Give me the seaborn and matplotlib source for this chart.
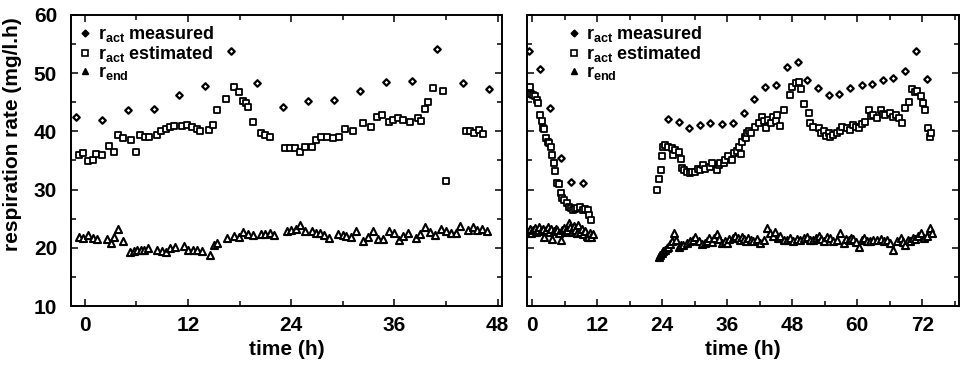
import matplotlib
matplotlib.use("Agg")
import matplotlib.pyplot as plt
import seaborn as sns
import pandas as pd
from matplotlib.ticker import MultipleLocator
from matplotlib.lines import Line2D

# ---------------- data ----------------
# left panel
left_meas_t = [-1, 2, 5, 8, 11, 14, 17, 20, 23, 26, 29, 32, 35, 38, 41, 44, 47]
left_meas_v = [42.4, 42.0, 43.7, 43.9, 46.3, 47.8, 53.9, 48.4, 44.2, 45.3, 45.4,
               47.0, 48.5, 48.7, 54.1, 48.4, 47.3]

left_est_t = [-0.7, -0.2, 0.4, 0.9, 1.3, 2.0, 2.8, 3.4, 3.9, 4.5, 5.4, 6.0, 6.4, 7.0,
              7.5, 8.4, 8.9, 9.5, 9.9, 10.4, 11.3, 11.9, 12.5, 13.0, 13.4, 14.4, 14.9,
              15.4, 16.4, 17.4, 17.9, 18.4, 18.7, 19.0, 19.5, 20.5, 21.0, 21.5, 23.3,
              23.9, 24.4, 25.0, 25.6, 26.4, 26.9, 27.5, 28.1, 28.8, 29.5, 30.2, 31.2,
              32.4, 33.3, 34.0, 34.5, 35.4, 35.8, 36.4, 37.0, 37.8, 38.7, 39.1, 39.5,
              39.9, 40.5, 41.6, 42.0, 44.3, 44.8, 45.3, 45.8, 46.3]
left_est_v = [35.9, 36.3, 34.9, 35.1, 36.1, 35.9, 37.5, 36.5, 39.4, 38.8, 38.5, 36.5,
              39.4, 39.1, 39.0, 39.4, 40.0, 40.4, 40.7, 40.9, 40.9, 41.1, 40.7, 40.4,
              40.1, 40.2, 41.1, 43.7, 45.6, 47.6, 46.8, 45.2, 44.8, 44.2, 41.7, 39.8,
              39.4, 39.1, 37.1, 37.1, 37.2, 36.5, 37.4, 37.4, 38.5, 39.1, 39.0, 38.9,
              39.0, 40.4, 40.1, 41.4, 40.7, 42.5, 42.9, 41.6, 42.0, 42.3, 42.0, 41.7,
              42.3, 41.8, 43.8, 45.1, 47.4, 47.0, 31.4, 40.1, 40.0, 39.8, 40.2, 39.6]

left_end_t = [-0.7, -0.2, 0.4, 0.9, 1.4, 2.6, 3.0, 3.4, 3.9, 4.4, 5.3, 5.7, 6.1, 6.5,
              6.9, 7.4, 8.4, 9.0, 9.5, 9.9, 10.5, 11.5, 12.0, 12.6, 13.1, 13.6, 14.5,
              15.0, 15.4, 16.5, 17.3, 17.9, 18.4, 19.0, 19.5, 20.5, 21.0, 21.5, 22.0,
              23.5, 24.0, 24.5, 25.0, 25.6, 26.4, 26.9, 27.4, 27.8, 28.4, 29.4, 30.0,
              30.4, 31.0, 31.5, 32.4, 32.9, 33.5, 34.1, 34.7, 35.4, 35.9, 36.5, 37.0,
              37.6, 38.5, 39.0, 39.5, 40.1, 40.7, 41.4, 42.0, 42.6, 43.2, 43.6, 44.5,
              45.1, 45.6, 46.2, 46.8]
left_end_v = [21.8, 21.6, 22.2, 21.6, 21.5, 21.5, 20.9, 21.9, 23.2, 21.2, 19.2, 19.5,
              19.6, 19.6, 19.6, 20.0, 19.6, 19.5, 19.3, 19.9, 20.1, 20.3, 19.7, 19.7,
              19.6, 19.5, 18.8, 20.5, 20.8, 21.7, 22.0, 21.9, 22.8, 22.4, 22.2, 22.4,
              22.4, 22.6, 22.2, 22.9, 23.1, 23.3, 24.0, 22.9, 22.9, 22.6, 22.5, 22.2,
              21.7, 22.4, 22.2, 22.0, 21.8, 22.9, 21.2, 21.8, 22.9, 21.5, 21.5, 22.9,
              22.5, 21.3, 22.0, 22.5, 21.7, 22.3, 23.5, 22.8, 22.2, 23.2, 22.9, 22.5,
              22.6, 23.7, 23.1, 23.6, 23.0, 23.3, 22.9]

# right panel
right_meas_t = [-0.7, 1.4, 3.3, 5.3, 7.2, 9.3, 25.0, 27.0, 29.0, 30.9, 32.8, 35.0,
                37.0, 39.0, 41.0, 43.0, 45.0, 47.0, 49.1, 50.7, 52.7, 54.7, 56.7,
                58.7, 60.8, 62.8, 64.8, 66.7, 68.9, 70.9, 72.9]
right_meas_v = [53.9, 50.7, 44.0, 35.5, 31.3, 31.2, 42.1, 41.7, 40.6, 41.1, 41.5,
                41.3, 41.4, 43.2, 45.5, 47.6, 47.9, 51.0, 52.0, 48.8, 47.5, 46.3,
                46.4, 47.4, 47.9, 48.1, 48.8, 49.2, 50.4, 53.8, 49.0]

right_est_t = [-0.4, -0.3, 0.1, 0.5, 0.8, 1.1, 1.4, 1.7, 2.0, 2.2, 2.5, 2.8, 3.0,
               3.4, 3.6, 3.9, 4.2, 4.6, 4.9, 5.2, 5.4, 5.9, 6.4, 6.8, 7.2, 7.5, 7.9,
               8.3, 8.8, 9.4, 9.8, 10.2, 10.5, 10.9,
               23.0, 23.3, 23.8, 24.0, 24.2, 24.5, 25.1, 25.8, 26.0, 26.4, 27.0, 27.4,
               27.6, 28.0, 28.5, 29.1, 29.5, 30.0, 30.5, 31.0, 31.6, 31.9, 32.8, 33.2,
               34.1, 34.4, 34.6, 35.3, 35.6, 36.2, 36.8, 37.2, 37.8, 38.1, 38.5, 38.7,
               39.3, 39.5, 39.7, 40.0, 40.4, 41.1, 41.8, 42.4, 42.8, 43.2, 43.6, 44.0,
               44.5, 45.0, 45.2, 45.8, 46.4, 47.5, 47.9, 48.6, 49.2, 49.6, 50.1, 51.0,
               51.3, 51.9, 52.9, 53.3, 53.8, 54.2, 54.7, 55.0, 55.6, 56.3, 56.8, 57.2,
               58.1, 58.7, 59.3, 59.8, 60.3, 60.8, 61.5, 62.1, 62.6, 63.0, 63.7, 64.3,
               64.8, 65.2, 66.1, 66.6, 67.1, 67.8, 68.3, 68.9, 69.5, 70.1, 70.6, 71.1,
               71.7, 72.2, 72.6, 73.0, 73.4, 73.6]
right_est_v = [47.6, 46.5, 46.3, 46.0, 45.4, 44.8, 42.8, 41.8, 40.5, 40.4, 38.8, 38.2,
               38.0, 37.4, 35.9, 34.6, 33.2, 31.2, 31.0, 29.5, 28.5, 28.2, 27.7, 27.0,
               26.8, 26.5, 26.6, 26.8, 27.0, 26.5, 26.7, 26.5, 25.6, 24.8,
               30.0, 31.8, 33.4, 35.7, 37.4, 37.7, 37.4, 37.1, 36.0, 36.8, 36.5, 35.2,
               33.7, 33.3, 33.1, 32.8, 33.0, 33.1, 33.5, 33.4, 34.2, 33.5, 33.8, 34.6,
               33.4, 34.3, 34.5, 34.5, 35.1, 35.7, 35.0, 36.3, 36.6, 37.4, 36.2, 38.2,
               39.1, 38.8, 39.8, 40.1, 39.7, 40.8, 41.4, 42.5, 41.8, 40.5, 42.0, 41.5,
               42.5, 41.8, 42.8, 40.9, 43.7, 46.3, 47.7, 48.3, 48.5, 47.2, 44.7, 43.2,
               41.5, 40.8, 40.5, 39.8, 40.0, 39.2, 39.7, 39.0, 39.4, 39.7, 40.0, 40.8,
               40.5, 40.2, 41.1, 40.8, 40.5, 41.2, 41.7, 43.7, 42.6, 42.8, 42.3, 43.7,
               43.0, 42.8, 43.1, 42.5, 42.8, 42.3, 41.4, 44.0, 45.1, 47.2, 46.8, 47.0,
               46.0, 44.8, 43.7, 40.5, 39.0, 39.7]

right_end_t = [-0.8, -0.5, -0.2, 0.1, 0.4, 0.7, 1.0, 1.3, 1.6, 1.9, 2.2, 2.5, 2.8,
               3.1, 3.4, 3.7, 4.0, 4.3, 4.6, 4.9, 5.2, 5.5, 5.8, 6.1, 6.4, 6.7, 7.0,
               7.3, 7.6, 7.9, 8.2, 8.5, 8.8, 9.1, 9.4, 9.7, 10.0, 10.3, 10.6, 10.9, 11.2,
               23.3, 23.6, 23.9, 24.2, 24.5, 24.8, 25.1, 25.5, 25.8, 26.2, 26.6, 27.0,
               27.5, 27.9, 28.5, 29.1, 29.6, 30.1, 30.7, 31.3, 31.8, 32.2, 32.7, 33.2,
               33.6, 34.1, 34.5, 35.0, 35.5, 35.9, 36.4, 37.0, 37.5, 37.9, 38.3, 38.7,
               39.0, 39.5, 39.9, 40.4, 40.8, 41.5, 42.1, 42.7, 43.3, 43.9, 44.4, 44.9,
               45.3, 45.8, 46.4, 47.0, 47.6, 48.2, 48.8, 49.5, 50.1, 50.7, 51.3, 51.9,
               52.4, 52.9, 53.4, 53.8, 54.4, 55.0, 55.6, 56.3, 56.9, 57.5, 58.0, 58.4,
               58.9, 59.3, 59.8, 60.3, 60.8, 61.2, 61.8, 62.4, 63.0, 63.7, 64.3, 64.9,
               65.5, 66.1, 66.7, 67.3, 68.0, 68.5, 68.9, 69.4, 69.8, 70.3, 70.7, 71.2,
               71.7, 72.3, 72.9, 73.5, 73.8]
right_end_v = [22.8, 23.2, 22.6, 23.1, 23.4, 22.7, 23.0, 23.5, 22.9, 23.3, 21.9, 23.0,
               23.6, 22.8, 23.2, 21.5, 22.9, 23.3, 23.0, 22.6, 21.4, 23.1, 23.4, 22.8,
               23.0, 24.2, 23.5, 22.7, 23.8, 23.1, 22.5, 24.0, 22.8, 23.3, 22.4, 22.9,
               22.1, 21.9, 22.5, 21.8, 22.3,
               18.5, 18.8, 19.1, 19.4, 19.6, 19.9, 20.1, 20.6, 21.1, 22.6, 21.3, 20.1,
               20.4, 20.5, 20.8, 21.1, 21.4, 21.8, 21.2, 20.7, 20.9, 21.1, 21.6, 21.0,
               21.7, 22.4, 21.5, 20.8, 21.2, 20.8, 21.5, 21.6, 22.0, 21.7, 21.3, 21.9,
               21.5, 21.2, 21.6, 21.4, 21.1, 21.5, 20.8, 21.3, 23.4, 22.5, 22.0, 22.8,
               21.6, 22.0, 21.4, 21.3, 21.7, 21.1, 21.5, 21.3, 21.6, 21.8, 21.4, 21.3,
               21.7, 22.0, 21.5, 21.2, 21.8, 21.6, 21.2, 21.3, 22.6, 20.9, 21.5, 21.3,
               21.7, 21.5, 21.0, 20.2, 21.3, 21.6, 21.2, 21.1, 21.4, 21.3, 21.5, 21.1,
               21.3, 20.8, 19.6, 21.2, 21.6, 21.0, 20.5, 21.3, 21.2, 21.7, 21.5, 22.0,
               22.6, 21.6, 22.0, 23.4, 22.5]

x_ticks_left = [0, 12, 24, 36, 48]
x_ticks_right = [0, 12, 24, 36, 48, 60, 72]
y_ticks = [10, 20, 30, 40, 50, 60]

labels = ["r$_{act}$ measured", "r$_{act}$ estimated", "r$_{end}$"]

# ---------------- style ----------------
sns.set_theme(style="ticks")
plt.rcParams["font.family"] = ["Liberation Sans", "DejaVu Sans"]
plt.rcParams["font.weight"] = "bold"
plt.rcParams["mathtext.default"] = "regular"
plt.rcParams["axes.linewidth"] = 1.4
for k in ["text.color", "axes.labelcolor", "xtick.color", "ytick.color",
          "axes.edgecolor", "xtick.labelcolor", "ytick.labelcolor"]:
    plt.rcParams[k] = "black"

FS = 15
LFS = 13

fig = plt.figure(figsize=(9.67, 3.69), dpi=100)
ax1 = fig.add_axes([71 / 967, 1 - 306 / 369, (502 - 71) / 967, (306 - 15) / 369])
ax2 = fig.add_axes([527 / 967, 1 - 306 / 369, (959 - 527) / 967, (306 - 15) / 369])

def df(t, v):
    return pd.DataFrame({"time": t, "rate": v})

styles = {
    "meas": dict(marker="D", s=11, facecolor="white", edgecolor="black", linewidth=1.6),
    "est": dict(marker="s", s=24, facecolor="white", edgecolor="black", linewidth=1.3),
    "end": dict(marker="^", s=26, facecolor="white", edgecolor="black", linewidth=1.5),
}

panels = [
    (ax1, (left_meas_t, left_meas_v), (left_est_t, left_est_v), (left_end_t, left_end_v),
     (-1.6, 48.5), x_ticks_left, 0.0),
    (ax2, (right_meas_t, right_meas_v), (right_est_t, right_est_v), (right_end_t, right_end_v),
     (-1.0, 78.8), x_ticks_right, 0.075),
]

for ax, meas, est, end, xlim, xt, lx in panels:
    sns.scatterplot(data=df(*end), x="time", y="rate", ax=ax, legend=False, **styles["end"])
    sns.scatterplot(data=df(*est), x="time", y="rate", ax=ax, legend=False, **styles["est"])
    sns.scatterplot(data=df(*meas), x="time", y="rate", ax=ax, legend=False, **styles["meas"])
    ax.set_xlim(*xlim)
    ax.set_ylim(10, 60)
    ax.set_xticks(xt)
    ax.xaxis.set_minor_locator(MultipleLocator(6))
    ax.set_yticks(y_ticks)
    ax.yaxis.set_minor_locator(MultipleLocator(5))
    ax.tick_params(which="both", direction="in", top=True, right=True,
                   colors="black", labelsize=FS, width=1.1)
    ax.tick_params(which="major", length=5)
    ax.tick_params(axis="x", which="major", pad=7)
    ax.tick_params(axis="y", which="major", pad=10)
    ax.tick_params(which="minor", length=3.5)
    ax.set_xlabel("time (h)", fontsize=FS, labelpad=4, fontweight="bold")
    ax.set_ylabel("")
    for sp in ax.spines.values():
        sp.set_color("black")
        sp.set_visible(True)
    handles = [
        Line2D([], [], linestyle="none", marker="D", markersize=3.5, markerfacecolor="black",
               markeredgecolor="black"),
        Line2D([], [], linestyle="none", marker="s", markersize=4.5, markerfacecolor="white",
               markeredgecolor="black", markeredgewidth=1.2),
        Line2D([], [], linestyle="none", marker="^", markersize=4.5, markerfacecolor="black",
               markeredgecolor="black"),
    ]
    ax.legend(handles, labels, loc="upper left", bbox_to_anchor=(lx, 1.0), frameon=False,
              fontsize=LFS, handlelength=0.6, handletextpad=0.4, labelspacing=0.0,
              borderaxespad=0.3, borderpad=0.2)

ax2.tick_params(axis="y", labelleft=False)
ax1.set_ylabel("respiration rate (mg/l.h)", fontsize=FS, fontweight="bold")
ax1.yaxis.set_label_coords(-0.114, 0.59)

fig.savefig("out.png", dpi=100, facecolor="white")
